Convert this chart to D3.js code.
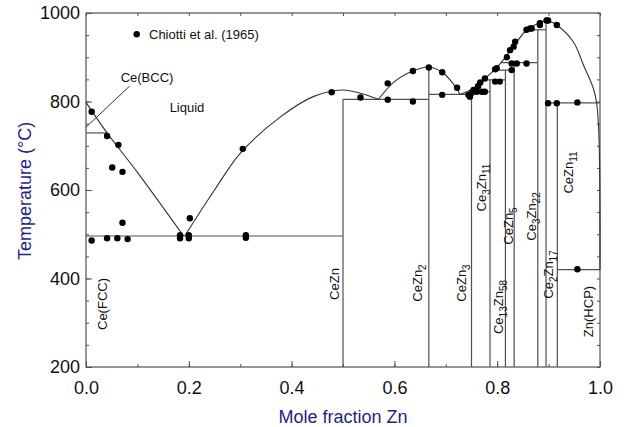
<!DOCTYPE html>
<html>
<head>
<meta charset="utf-8">
<script src="https://cdn.jsdelivr.net/npm/d3@7"></script>
<style>
  body { margin: 0; background: #fff; }
  svg { display: block; font-family: "Liberation Sans", Arial, Helvetica, sans-serif; }
</style>
</head>
<body>
<div class="chart"></div>
<script>
// Axis ticks
const xTicks = [0, 0.2, 0.4, 0.6, 0.8, 1.0]
const yTicks = [200, 400, 600, 800, 1000]

// Liquidus arcs [mole fraction Zn, temperature]
const liquidusCe = [[0, 798], [0.041, 729], [0.1, 640], [0.19, 496]]
const liquidusCeZn = [[0.192, 496], [0.25, 600], [0.3, 683], [0.377, 764], [0.442, 811], [0.5, 826], [0.569, 805]]
const liquidusCeZn2 = [[0.569, 805], [0.6, 845], [0.636, 869], [0.667, 878], [0.693, 866], [0.713, 842], [0.728, 816]]
const liquidusZn = [[0.728, 816], [0.75, 828], [0.776, 852], [0.796, 873], [0.812, 894], [0.828, 920],
  [0.838, 935], [0.857, 961], [0.88, 977], [0.896, 983], [0.914, 974], [0.948, 935], [0.968, 882],
  [0.987, 830], [0.9935, 796], [0.998, 720], [1.0, 420]]

// Compounds: composition, upper temperature of the vertical line
const compounds = ["CeZn", "CeZn2", "CeZn3", "Ce3Zn11", "Ce13Zn58", "CeZn5", "Ce3Zn22", "Ce2Zn17", "CeZn11"]
const compoundX = [0.5, 0.667, 0.75, 0.786, 0.816, 0.833, 0.879, 0.895, 0.917]
const compoundTop = [805, 878, 822, 849, 871, 888, 962, 983, 797]

// Invariant horizontal lines [x start, x end, temperature]
const invariants = [
  [0, 0.5, 496], [0, 0.041, 729], [0.5, 0.667, 805], [0.667, 0.75, 816], [0.75, 0.786, 822],
  [0.776, 0.816, 849], [0.803, 0.833, 871], [0.808, 0.879, 888], [0.857, 0.895, 962],
  [0.895, 1.0, 797], [0.917, 1.0, 420]
]

// Chiotti et al. (1965) measurements
const chiotti = [
  [0.011, 777], [0.041, 722], [0.063, 702], [0.051, 651], [0.071, 641], [0.071, 526],
  [0.011, 486], [0.041, 491], [0.061, 491], [0.081, 489],
  [0.183, 498], [0.183, 491], [0.2, 498], [0.2, 491], [0.202, 536],
  [0.311, 498], [0.311, 492], [0.305, 693],
  [0.478, 821], [0.534, 809], [0.587, 841], [0.587, 804], [0.636, 869], [0.636, 800],
  [0.667, 877], [0.693, 866], [0.693, 815], [0.722, 831], [0.744, 815],
  [0.746, 815], [0.747, 811], [0.75, 819], [0.754, 826], [0.76, 822], [0.763, 835],
  [0.767, 843], [0.77, 822], [0.776, 822], [0.776, 852], [0.796, 873], [0.799, 875],
  [0.796, 845], [0.805, 845], [0.819, 900], [0.825, 916], [0.832, 924], [0.835, 935],
  [0.828, 871], [0.828, 886], [0.838, 886], [0.857, 886],
  [0.857, 962], [0.864, 965], [0.867, 965], [0.883, 973], [0.883, 977],
  [0.896, 983], [0.899, 983], [0.916, 973],
  [0.899, 796], [0.916, 796], [0.956, 798], [0.956, 421]
]

// Specify the dimensions of the chart.
const width = 627
const height = 427
const margin = {top: 13, right: 27, bottom: 60, left: 86}
const axisColor = "#1f1f8f"
const lineColor = "#505050"

const svg = d3.select(".chart").append("svg")
    .attr("width", width)
    .attr("height", height)
    .attr("viewBox", [0, 0, width, height])

const x = d3.scaleLinear([0, 1], [margin.left, width - margin.right])
const y = d3.scaleLinear([200, 1000], [height - margin.bottom, margin.top])

// Axes with inward ticks (major + minor), mirrored on top and right.
function drawAxis(axis, transform, labels) {
    const g = svg.append("g").attr("transform", transform).call(axis)
    g.select(".domain").remove()
    g.selectAll(".tick line").attr("stroke", lineColor)
    g.selectAll(".tick text").attr("fill", "#111").attr("font-size", 18)
        .attr("font-family", "Liberation Sans, Arial, sans-serif")
    if (!labels) g.selectAll(".tick text").remove()
    return g
}
const xMinor = d3.range(0, 1.0001, 0.1)
const yMinor = d3.range(200, 1001, 50)
const atBottom = `translate(0,${y(200)})`
const atTop = `translate(0,${y(1000)})`
const atLeft = `translate(${x(0)},0)`
const atRight = `translate(${x(1)},0)`

drawAxis(d3.axisBottom(x).tickValues(xMinor).tickSize(-3), atBottom, false)
drawAxis(d3.axisBottom(x).tickValues(xTicks).tickSize(-6).tickPadding(14).tickFormat(d3.format(".1f")), atBottom, true)
drawAxis(d3.axisTop(x).tickValues(xMinor).tickSize(-3), atTop, false)
drawAxis(d3.axisLeft(y).tickValues(yMinor).tickSize(-3), atLeft, false)
drawAxis(d3.axisLeft(y).tickValues(yTicks).tickSize(-6).tickPadding(6).tickFormat(d3.format("d")), atLeft, true)
drawAxis(d3.axisRight(y).tickValues(yMinor).tickSize(-3), atRight, false)

// Frame
svg.append("rect")
    .attr("x", x(0)).attr("y", y(1000))
    .attr("width", x(1) - x(0)).attr("height", y(200) - y(1000))
    .attr("fill", "none").attr("stroke", lineColor).attr("stroke-width", 1.2)

// Axis titles
svg.append("text")
    .attr("x", (x(0) + x(1)) / 2).attr("y", 423)
    .attr("text-anchor", "middle").attr("font-size", 18).attr("fill", axisColor)
    .text("Mole fraction Zn")
svg.append("text")
    .attr("transform", `translate(25,${(y(200) + y(1000)) / 2 + 1}) rotate(-90)`)
    .attr("dy", "0.35em")
    .attr("text-anchor", "middle").attr("font-size", 18).attr("fill", axisColor)
    .text("Temperature (°C)")

// Phase boundaries
const phase = svg.append("g").attr("stroke", lineColor).attr("stroke-width", 1.2).attr("fill", "none")
phase.selectAll("line.v")
    .data(compounds)
    .join("line")
        .attr("class", "v")
        .attr("x1", (d, i) => x(compoundX[i])).attr("x2", (d, i) => x(compoundX[i]))
        .attr("y1", y(200)).attr("y2", (d, i) => y(compoundTop[i]))
phase.selectAll("line.h")
    .data(invariants)
    .join("line")
        .attr("class", "h")
        .attr("x1", d => x(d[0])).attr("x2", d => x(d[1]))
        .attr("y1", d => y(d[2])).attr("y2", d => y(d[2]))

// Ce(BCC) leader line
phase.append("line")
    .attr("x1", x(0)).attr("y1", y(742))
    .attr("x2", x(0.085)).attr("y2", y(835))
    .attr("stroke", "#333").attr("stroke-width", 1)

// Liquidus
const line = d3.line()
    .x(d => x(d[0]))
    .y(d => y(d[1]))
    .curve(d3.curveCatmullRom.alpha(0.5))
svg.append("g")
    .attr("fill", "none").attr("stroke", "#333").attr("stroke-width", 1.1)
    .selectAll("path")
    .data([liquidusCe, liquidusCeZn, liquidusCeZn2, liquidusZn])
    .join("path")
        .attr("d", line)

// Experimental points
svg.append("g")
    .selectAll("circle")
    .data(chiotti)
    .join("circle")
        .attr("cx", d => x(d[0]))
        .attr("cy", d => y(d[1]))
        .attr("r", 3.2)
        .attr("fill", "#000")

// Legend
svg.append("circle").attr("cx", 136.7).attr("cy", 34.3).attr("r", 3.2).attr("fill", "#000")
svg.append("text").attr("x", 149).attr("y", 39).attr("font-size", 13).attr("fill", "#111")
    .text("Chiotti et al. (1965)")

// Region labels
svg.append("text").attr("x", 147).attr("y", 81.5).attr("text-anchor", "middle")
    .attr("font-size", 13).attr("fill", "#111").text("Ce(BCC)")
svg.append("text").attr("x", 187).attr("y", 112).attr("text-anchor", "middle")
    .attr("font-size", 13).attr("fill", "#111").text("Liquid")

// Vertical phase labels (baseline x in px, centre y in px)
const labelLayout = [
    ["Ce(FCC)", 107, 304], ["CeZn", 338.5, 284], ["CeZn2", 421.5, 283], ["CeZn3", 466, 283],
    ["Ce3Zn11", 486, 187.5], ["Ce13Zn58", 502.5, 307], ["CeZn5", 512.5, 226],
    ["Ce3Zn22", 536, 216.5], ["Ce2Zn17", 552.5, 274.5], ["CeZn11", 572.5, 172.5], ["Zn(HCP)", 593, 311.5]
]
labelLayout.forEach(([name, bx, cy]) => {
    const t = svg.append("text")
        .attr("transform", `translate(${bx},${cy}) rotate(-90)`)
        .attr("text-anchor", "middle")
        .attr("font-size", 13)
        .attr("fill", "#111")
    let shifted = false
    name.split(/(\d+)/).filter(s => s.length).forEach(part => {
        if (/^\d+$/.test(part)) {
            t.append("tspan").attr("font-size", 10).attr("dy", 4).text(part)
            shifted = true
        } else {
            t.append("tspan").attr("dy", shifted ? -4 : null).text(part)
            shifted = false
        }
    })
})
</script>
</body>
</html>
